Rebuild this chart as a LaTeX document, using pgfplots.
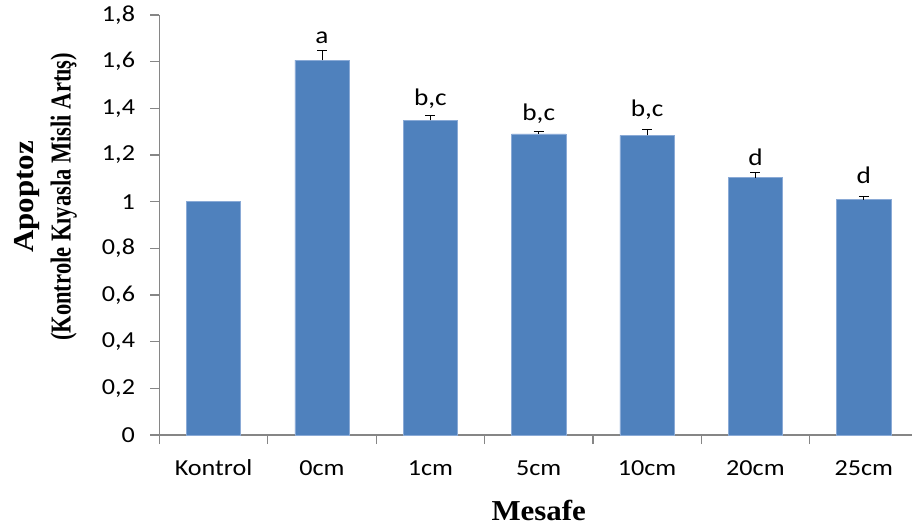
\documentclass[border=0pt]{standalone}
\usepackage{fontspec}
\usepackage{pgfplots}
\pgfplotsset{compat=1.18}
\newfontfamily\carlito{Carlito}[FakeStretch=1.14]
\newfontfamily\tnr{Liberation Serif}[FakeStretch=1.07]
\newfontfamily\tnrc{Liberation Serif}[FakeStretch=0.78]
\definecolor{barblue}{HTML}{4F81BD}
\definecolor{baredge}{HTML}{8AAAD6}
\definecolor{axisgray}{HTML}{868686}

\begin{document}
\begin{tikzpicture}
\useasboundingbox (-159.5bp,-95bp) rectangle (752.5bp,435bp);
\begin{axis}[
  at={(0,0)}, anchor=south west,
  scale only axis, width=752.5bp, height=420bp,
  xmin=-0.5, xmax=6.445, ymin=0, ymax=1.8,
  axis x line*=bottom, axis y line*=left,
  axis line style={axisgray, line width=1.2bp},
  tick align=outside, major tick length=9bp,
  tick style={axisgray, line width=1.2bp},
  ytick={0,0.2,0.4,0.6,0.8,1,1.2,1.4,1.6,1.8},
  yticklabels={0,{0,2},{0,4},{0,6},{0,8},1,{1,2},{1,4},{1,6},{1,8}},
  xtick={-0.5,0.5,1.5,2.5,3.5,4.5,5.5},
  xticklabels={Kontrol,0cm,1cm,5cm,10cm,20cm,25cm},
  ticklabel style={font=\carlito\fontsize{23}{23}\selectfont},
  xticklabel style={xshift=54.15bp, anchor=base, yshift=-31bp},
  yticklabel style={xshift=-12bp},
  xlabel={Mesafe},
  xlabel style={font=\tnr\bfseries\fontsize{29}{29}\selectfont,
    at={(axis description cs:0.504,0)}, anchor=base, yshift=-85bp},
  ylabel={Apoptoz\\{\tnrc\bfseries(Kontrole Kıyasla Misli Artış)}},
  ylabel style={font=\tnr\bfseries\fontsize{29}{37}\selectfont, align=center,
    at={(axis description cs:-0.1096,0.567)}, anchor=south, inner sep=0pt},
]
% control group, no error bar
\addplot[ybar, bar shift=0pt, bar width=0.5, fill=barblue, draw=baredge, line width=0.6bp]
  coordinates {(0,1.0)};
% treated groups with standard error (upper side only)
\addplot[ybar, bar shift=0pt, bar width=0.5, fill=barblue, draw=baredge, line width=0.6bp,
  error bars/.cd, y dir=plus, y explicit,
  error bar style={black, line width=1bp},
  error mark options={rotate=90, mark size=5bp, black, line width=1bp}]
  table[x=x, y=y, y error=e] {
x y e
1 1.607 0.040
2 1.348 0.020
3 1.290 0.010
4 1.284 0.027
5 1.103 0.021
6 1.008 0.014
};
% significance letters
\begin{scope}[every node/.style={font=\carlito\fontsize{24}{24}\selectfont, anchor=base, inner sep=0pt}]
\node at (axis cs:1,1.678) {a};
\node at (axis cs:2,1.414) {b,c};
\node at (axis cs:3,1.347) {b,c};
\node at (axis cs:4,1.367) {b,c};
\node at (axis cs:5,1.157) {d};
\node at (axis cs:6,1.079) {d};
\end{scope}
\end{axis}
\end{tikzpicture}
\end{document}
